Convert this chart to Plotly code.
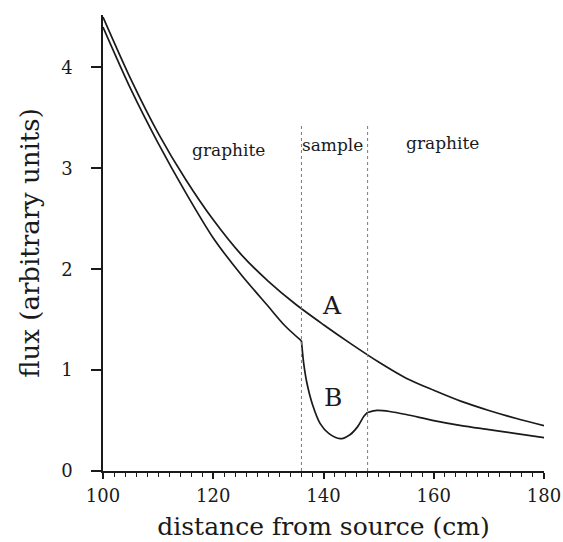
import plotly.graph_objects as go

# Flux along the beam line: curve A (all graphite) and curve B (with sample inserted)
a_x = [100, 105, 110, 115, 120, 125, 130, 135, 140, 145, 150, 155, 160, 165, 170, 175, 180]
a_y = [4.50, 3.89, 3.35, 2.89, 2.49, 2.15, 1.88, 1.65, 1.45, 1.26, 1.08, 0.92, 0.80, 0.69, 0.60, 0.52, 0.45]

# curve B, one piece per region (graphite / sample / graphite)
b1_x = [100, 105, 110, 115, 120, 125, 130, 133, 136]
b1_y = [4.40, 3.79, 3.25, 2.76, 2.31, 1.95, 1.63, 1.44, 1.29]
b2_x = [136, 136.4, 137, 138, 139.4, 141, 143, 144.8, 146.2, 147.3, 148]
b2_y = [1.29, 1.07, 0.87, 0.66, 0.47, 0.37, 0.32, 0.36, 0.44, 0.54, 0.58]
b3_x = [148, 149.7, 152, 155, 160, 165, 170, 175, 180]
b3_y = [0.58, 0.60, 0.59, 0.56, 0.50, 0.45, 0.41, 0.37, 0.33]

# sample boundaries
boundaries = [136, 148]
boundary_top = 3.45

region_labels = ["graphite", "sample", "graphite"]
region_label_x = [122.7, 141.7, 161.5]
region_label_y = [3.18, 3.23, 3.25]

curve_labels = ["A", "B"]
curve_label_x = [141.6, 141.8]
curve_label_y = [1.64, 0.73]

x_ticks = [100, 120, 140, 160, 180]
y_ticks = [0, 1, 2, 3, 4]

FONT = "DejaVu Serif"
INK = "#1a1a1a"

fig = go.Figure()

line_style = dict(color=INK, width=1.7, shape="spline", smoothing=0.8)
fig.add_trace(go.Scatter(x=a_x, y=a_y, mode="lines", line=line_style, hoverinfo="skip"))
for bx, by in [(b1_x, b1_y), (b2_x, b2_y), (b3_x, b3_y)]:
    fig.add_trace(go.Scatter(x=bx, y=by, mode="lines", line=line_style, hoverinfo="skip"))

for xb in boundaries:
    fig.add_shape(type="line", x0=xb, x1=xb, y0=0, y1=boundary_top, xref="x", yref="y",
                  line=dict(color="#7a7a7a", width=1, dash="3px,3px"))

for txt, tx, ty in zip(region_labels, region_label_x, region_label_y):
    fig.add_annotation(x=tx, y=ty, text=txt, showarrow=False,
                       font=dict(family=FONT, size=17, color=INK))
for txt, tx, ty in zip(curve_labels, curve_label_x, curve_label_y):
    fig.add_annotation(x=tx, y=ty, text=txt, showarrow=False,
                       font=dict(family=FONT, size=25, color=INK))

fig.update_layout(
    width=563, height=542,
    margin=dict(l=103, r=19, t=15, b=71, autoexpand=False),
    paper_bgcolor="white", plot_bgcolor="white",
    showlegend=False,
    font=dict(family=FONT, color=INK),
    xaxis=dict(
        range=[100, 180], tickvals=x_ticks, ticktext=[str(v) for v in x_ticks],
        automargin=False,
        showgrid=False, zeroline=False, showline=True, linecolor=INK, linewidth=1.5,
        ticks="outside", ticklen=6, tickwidth=1.5, tickcolor=INK,
        minor=dict(dtick=2, ticks="outside", ticklen=4, tickwidth=1, tickcolor=INK),
        tickfont=dict(family=FONT, size=18, color=INK), ticklabelstandoff=2,
        title=dict(text="distance from source (cm)", font=dict(family=FONT, size=25, color=INK),
                   standoff=12),
    ),
    yaxis=dict(
        range=[0, 4.52], tickvals=y_ticks, ticktext=[str(v) for v in y_ticks],
        automargin=False,
        showgrid=False, zeroline=False, showline=True, linecolor=INK, linewidth=1.5,
        ticks="outside", ticklen=10, tickwidth=1.5, tickcolor=INK,
        tickfont=dict(family=FONT, size=18, color=INK), ticklabelstandoff=15,
        title=dict(text="flux (arbitrary units)", font=dict(family=FONT, size=26, color=INK),
                   standoff=14),
    ),
)

fig.write_html("out.html")
